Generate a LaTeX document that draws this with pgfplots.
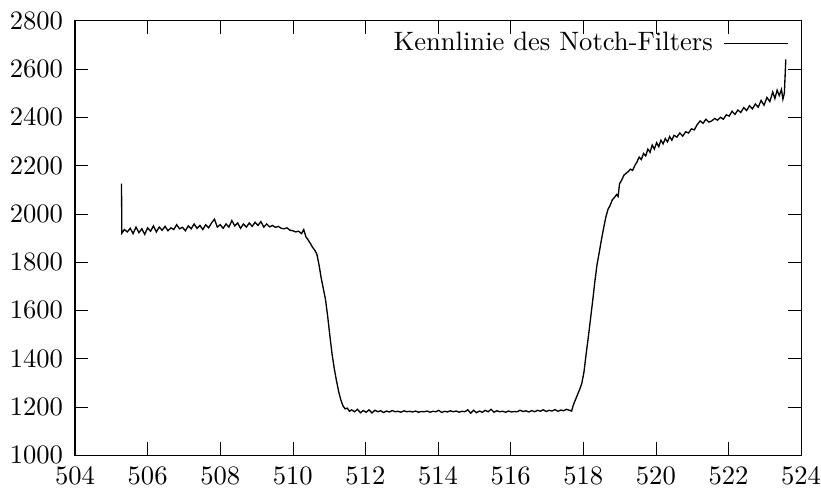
\documentclass[border=0pt]{standalone}
\usepackage{pgfplots}
\pgfplotsset{compat=1.18}
\pgfplotstableread{
x y
505.28 2125
505.29 1920
505.36 1935
505.44 1925
505.52 1940
505.60 1918
505.68 1945
505.76 1922
505.84 1938
505.92 1915
506.00 1942
506.08 1928
506.16 1950
506.24 1925
506.32 1945
506.40 1932
506.48 1948
506.56 1930
506.64 1942
506.72 1935
506.80 1955
506.88 1938
506.96 1944
507.04 1930
507.12 1950
507.20 1938
507.28 1958
507.36 1940
507.44 1952
507.52 1935
507.60 1955
507.68 1942
507.76 1962
507.84 1978
507.92 1945
508.00 1955
508.08 1940
508.16 1958
508.24 1945
508.32 1972
508.40 1950
508.48 1962
508.56 1940
508.64 1958
508.72 1945
508.80 1962
508.88 1948
508.96 1965
509.04 1952
509.12 1968
509.20 1945
509.28 1958
509.36 1946
509.44 1952
509.52 1944
509.60 1948
509.68 1940
509.76 1938
509.84 1942
509.92 1932
510.00 1930
510.08 1925
510.16 1928
510.24 1918
510.30 1935
510.36 1905
510.42 1892
510.48 1878
510.54 1862
510.60 1850
510.66 1834
510.72 1790
510.78 1735
510.84 1690
510.90 1645
510.96 1575
511.02 1495
511.08 1420
511.14 1360
511.20 1310
511.26 1265
511.32 1230
511.38 1205
511.44 1192
511.50 1195
511.56 1182
511.62 1188
511.70 1180
511.78 1190
511.86 1176
511.94 1185
512.02 1178
512.10 1188
512.18 1175
512.26 1186
512.34 1180
512.42 1184
512.50 1177
512.58 1183
512.66 1179
512.74 1185
512.82 1180
512.90 1182
512.98 1178
513.06 1184
513.14 1180
513.22 1182
513.30 1179
513.38 1183
513.46 1178
513.54 1181
513.62 1180
513.70 1183
513.78 1178
513.86 1182
513.94 1180
514.02 1186
514.10 1177
514.18 1182
514.26 1179
514.34 1184
514.42 1180
514.50 1183
514.58 1178
514.66 1182
514.74 1180
514.82 1188
514.90 1174
514.98 1186
515.06 1176
515.14 1183
515.22 1178
515.30 1186
515.38 1180
515.46 1190
515.54 1178
515.62 1184
515.70 1180
515.78 1182
515.86 1178
515.94 1183
516.02 1179
516.10 1181
516.18 1180
516.26 1186
516.34 1181
516.42 1184
516.50 1179
516.58 1185
516.66 1180
516.74 1186
516.82 1182
516.90 1188
516.98 1181
517.06 1186
517.14 1183
517.22 1189
517.30 1182
517.38 1187
517.46 1184
517.54 1190
517.62 1186
517.68 1183
517.72 1205
517.78 1228
517.84 1250
517.90 1272
517.96 1297
518.02 1345
518.08 1420
518.14 1490
518.20 1565
518.26 1640
518.32 1720
518.38 1790
518.44 1840
518.50 1892
518.56 1940
518.62 1985
518.68 2018
518.74 2035
518.80 2058
518.86 2068
518.92 2080
518.96 2072
519.00 2125
519.06 2140
519.12 2160
519.18 2168
519.24 2175
519.30 2185
519.36 2180
519.42 2200
519.48 2215
519.54 2235
519.60 2225
519.66 2250
519.72 2240
519.78 2268
519.84 2255
519.90 2285
519.96 2268
520.02 2295
520.08 2278
520.14 2305
520.20 2290
520.26 2312
520.32 2298
520.38 2320
520.44 2305
520.50 2325
520.58 2318
520.66 2335
520.74 2322
520.82 2340
520.90 2335
520.98 2352
521.06 2348
521.14 2370
521.22 2385
521.30 2375
521.38 2392
521.46 2380
521.54 2385
521.62 2395
521.70 2388
521.78 2400
521.86 2392
521.94 2410
522.02 2405
522.10 2425
522.18 2412
522.26 2430
522.34 2420
522.42 2440
522.50 2428
522.58 2448
522.66 2435
522.74 2455
522.82 2442
522.90 2470
522.98 2450
523.06 2482
523.14 2465
523.22 2505
523.28 2478
523.34 2512
523.40 2490
523.46 2515
523.50 2475
523.54 2500
523.58 2640
}\notchdata
\begin{document}
\begin{tikzpicture}
\begin{axis}[
  name=ax,
  scale only axis,
  width=272.9pt, height=163.3pt,
  xmin=504, xmax=524, ymin=1000, ymax=2800,
  xtick={504,506,...,524},
  ytick={1000,1200,...,2800},
  minor tick num=0,
  tick align=inside,
  major tick length=4.8pt,
  scaled ticks=false,
  /pgf/number format/.cd, 1000 sep={}, fixed, precision=0,
  /pgfplots/.cd,
  xticklabel style={yshift=-1pt},
  yticklabel style={xshift=-1pt},
  tick style={black},
  axis line style={black},
  legend style={at={(1,1)}, anchor=north east, xshift=-1.5pt, yshift=0pt,
    draw=none, fill=none},
  legend cell align=right,
  legend plot pos=right,
  legend image code/.code={\path (0pt,0pt); \draw[#1, line width=0.4pt] (2pt,0pt) -- (26pt,0pt);},
]
\addplot[black, line width=0.5pt, no marks] table[x=x, y=y] {\notchdata};
\addlegendentry{Kennlinie des Notch-Filters}
\end{axis}
\pgfresetboundingbox
\path[use as bounding box] ([xshift=-28.2pt,yshift=-12.4pt]ax.south west) rectangle ([xshift=7.5pt,yshift=7.8pt]ax.north east);
\end{tikzpicture}
\end{document}
